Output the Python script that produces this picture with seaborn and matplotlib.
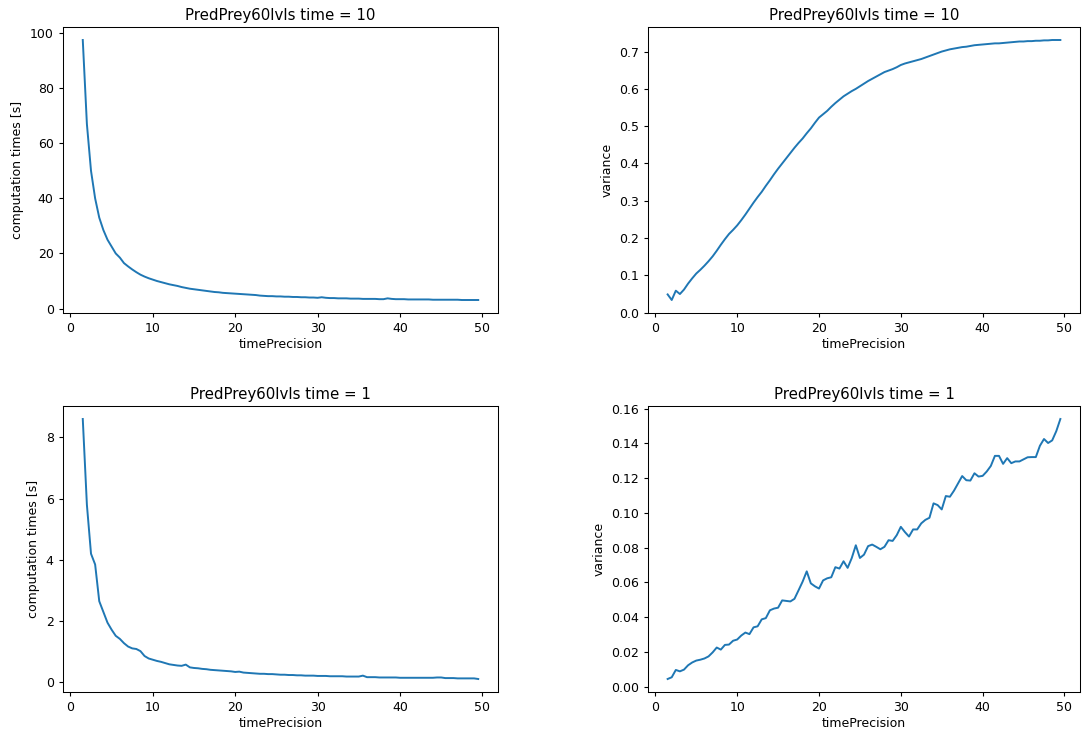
import numpy as np
import pandas as pd
import matplotlib
matplotlib.use("Agg")
import matplotlib.pyplot as plt
import seaborn as sns

# timePrecision values (same grid for all four runs)
time_precision = [1.5, 2.0, 2.5, 3.0, 3.5, 4.0, 4.5, 5.0, 5.5, 6.0, 6.5, 7.0, 7.5, 8.0, 8.5, 9.0,
                  9.5, 10.0, 10.5, 11.0, 11.5, 12.0, 12.5, 13.0, 13.5, 14.0, 14.5, 15.0, 15.5, 16.0,
                  16.5, 17.0, 17.5, 18.0, 18.5, 19.0, 19.5, 20.0, 20.5, 21.0, 21.5, 22.0, 22.5, 23.0,
                  23.5, 24.0, 24.5, 25.0, 25.5, 26.0, 26.5, 27.0, 27.5, 28.0, 28.5, 29.0, 29.5, 30.0,
                  30.5, 31.0, 31.5, 32.0, 32.5, 33.0, 33.5, 34.0, 34.5, 35.0, 35.5, 36.0, 36.5, 37.0,
                  37.5, 38.0, 38.5, 39.0, 39.5, 40.0, 40.5, 41.0, 41.5, 42.0, 42.5, 43.0, 43.5, 44.0,
                  44.5, 45.0, 45.5, 46.0, 46.5, 47.0, 47.5, 48.0, 48.5, 49.0, 49.5]

# time = 10 : computation times [s]
comp_t10 = [97.5, 67.0, 50.0, 40.0, 33.0, 28.5, 25.0, 22.5, 20.0, 18.5, 16.5, 15.3, 14.2, 13.2, 12.3, 11.6,
            11.0, 10.5, 10.0, 9.6, 9.2, 8.8, 8.5, 8.2, 7.8, 7.5, 7.2, 7.0, 6.8, 6.6,
            6.4, 6.2, 6.0, 5.9, 5.7, 5.6, 5.5, 5.4, 5.3, 5.2, 5.1, 5.0, 4.9, 4.7,
            4.6, 4.5, 4.5, 4.4, 4.4, 4.3, 4.3, 4.2, 4.2, 4.1, 4.1, 4.0, 4.0, 3.9,
            4.1, 3.9, 3.8, 3.8, 3.7, 3.7, 3.7, 3.6, 3.6, 3.6, 3.5, 3.5, 3.5, 3.5,
            3.4, 3.4, 3.7, 3.5, 3.4, 3.4, 3.4, 3.3, 3.3, 3.3, 3.3, 3.3, 3.3, 3.2,
            3.2, 3.2, 3.2, 3.2, 3.2, 3.2, 3.1, 3.1, 3.1, 3.1, 3.1]

# time = 10 : variance
var_t10 = [0.049, 0.034, 0.059, 0.050, 0.062, 0.078, 0.092, 0.105, 0.115, 0.126, 0.138, 0.151, 0.166, 0.182,
           0.197, 0.211, 0.222, 0.234, 0.248, 0.263, 0.279, 0.295, 0.310, 0.324, 0.340, 0.355, 0.371,
           0.386, 0.400, 0.414, 0.428, 0.442, 0.455, 0.467, 0.481, 0.494, 0.509, 0.523, 0.532, 0.541,
           0.552, 0.562, 0.571, 0.580, 0.587, 0.594, 0.600, 0.607, 0.614, 0.621, 0.627, 0.633, 0.639,
           0.645, 0.649, 0.653, 0.658, 0.664, 0.668, 0.671, 0.674, 0.677, 0.680, 0.684, 0.688, 0.692,
           0.696, 0.700, 0.703, 0.706, 0.708, 0.710, 0.712, 0.713, 0.715, 0.717, 0.718, 0.719, 0.720,
           0.721, 0.722, 0.722, 0.723, 0.724, 0.725, 0.726, 0.727, 0.727, 0.728, 0.728, 0.729, 0.729,
           0.730, 0.730, 0.731, 0.731, 0.731]

# time = 1 : computation times [s]
comp_t1 = [8.6, 5.8, 4.2, 3.85, 2.65, 2.3, 1.95, 1.72, 1.52, 1.42, 1.28, 1.17, 1.11, 1.09, 1.02, 0.86,
           0.78, 0.74, 0.70, 0.67, 0.63, 0.59, 0.57, 0.55, 0.54, 0.58, 0.49, 0.47, 0.46, 0.44,
           0.43, 0.41, 0.40, 0.39, 0.38, 0.37, 0.36, 0.34, 0.35, 0.32, 0.31, 0.30, 0.29, 0.28,
           0.28, 0.27, 0.27, 0.26, 0.25, 0.25, 0.24, 0.24, 0.23, 0.23, 0.22, 0.22, 0.22, 0.21,
           0.21, 0.21, 0.20, 0.20, 0.20, 0.20, 0.19, 0.19, 0.19, 0.19, 0.22, 0.17, 0.17, 0.17,
           0.16, 0.16, 0.16, 0.16, 0.16, 0.15, 0.15, 0.15, 0.15, 0.15, 0.15, 0.15, 0.15, 0.15,
           0.16, 0.16, 0.14, 0.14, 0.14, 0.13, 0.13, 0.13, 0.13, 0.13, 0.11]

# time = 1 : variance
var_t1 = [0.0045, 0.0055, 0.0097, 0.0089, 0.0099, 0.0124, 0.0140, 0.0151, 0.0156, 0.0163, 0.0175, 0.0198,
          0.0226, 0.0214, 0.0241, 0.0243, 0.0265, 0.0272, 0.0295, 0.0312, 0.0303, 0.0342, 0.0348, 0.0388,
          0.0395, 0.0440, 0.0450, 0.0455, 0.0497, 0.0494, 0.0491, 0.0506, 0.0555, 0.0605, 0.0664, 0.0595,
          0.0578, 0.0565, 0.0612, 0.0624, 0.0630, 0.0688, 0.0680, 0.0722, 0.0684, 0.0740, 0.0814, 0.0741,
          0.0760, 0.0809, 0.0818, 0.0805, 0.0791, 0.0805, 0.0843, 0.0839, 0.0872, 0.0920, 0.0890, 0.0864,
          0.0905, 0.0905, 0.0940, 0.0960, 0.0972, 0.1055, 0.1045, 0.1020, 0.1097, 0.1093, 0.1128, 0.1170,
          0.1212, 0.1188, 0.1186, 0.1228, 0.1209, 0.1213, 0.1238, 0.1270, 0.1328, 0.1328, 0.1282, 0.1315,
          0.1286, 0.1296, 0.1296, 0.1308, 0.1320, 0.1321, 0.1321, 0.1386, 0.1425, 0.1402, 0.1417, 0.1470,
          0.1540]

df = pd.DataFrame({
    "timePrecision": time_precision,
    "comp_t10": comp_t10,
    "var_t10": var_t10,
    "comp_t1": comp_t1,
    "var_t1": var_t1,
})

# the original looks like a slightly smaller render, so scale text/lines down a bit
plt.rcParams.update({
    "font.size": 9,
    "axes.titlesize": 10.8,
    "axes.labelsize": 9,
    "xtick.labelsize": 9,
    "ytick.labelsize": 9,
    "xtick.major.size": 3.2,
    "ytick.major.size": 3.2,
    "axes.linewidth": 0.75,
})

fig, axes = plt.subplots(2, 2, figsize=(10.82, 7.31), dpi=100)

panels = [
    (axes[0, 0], "comp_t10", "computation times [s]", "PredPrey60lvls time = 10"),
    (axes[0, 1], "var_t10", "variance", "PredPrey60lvls time = 10"),
    (axes[1, 0], "comp_t1", "computation times [s]", "PredPrey60lvls time = 1"),
    (axes[1, 1], "var_t1", "variance", "PredPrey60lvls time = 1"),
]

for ax, col, ylab, title in panels:
    sns.lineplot(data=df, x="timePrecision", y=col, ax=ax, color="#1f77b4", linewidth=1.4)
    ax.set_xlabel("timePrecision", labelpad=2)
    ax.set_ylabel(ylab)
    ax.set_title(title, pad=5)

# place axes like the original figure
axes[0, 0].set_position([63 / 1082, 1 - 313 / 731, 435 / 1082, 286 / 731])
axes[0, 1].set_position([648 / 1082, 1 - 313 / 731, 432 / 1082, 286 / 731])
axes[1, 0].set_position([63 / 1082, 1 - 692 / 731, 435 / 1082, 286 / 731])
axes[1, 1].set_position([648 / 1082, 1 - 692 / 731, 432 / 1082, 286 / 731])

fig.savefig("out.png", dpi=100)
